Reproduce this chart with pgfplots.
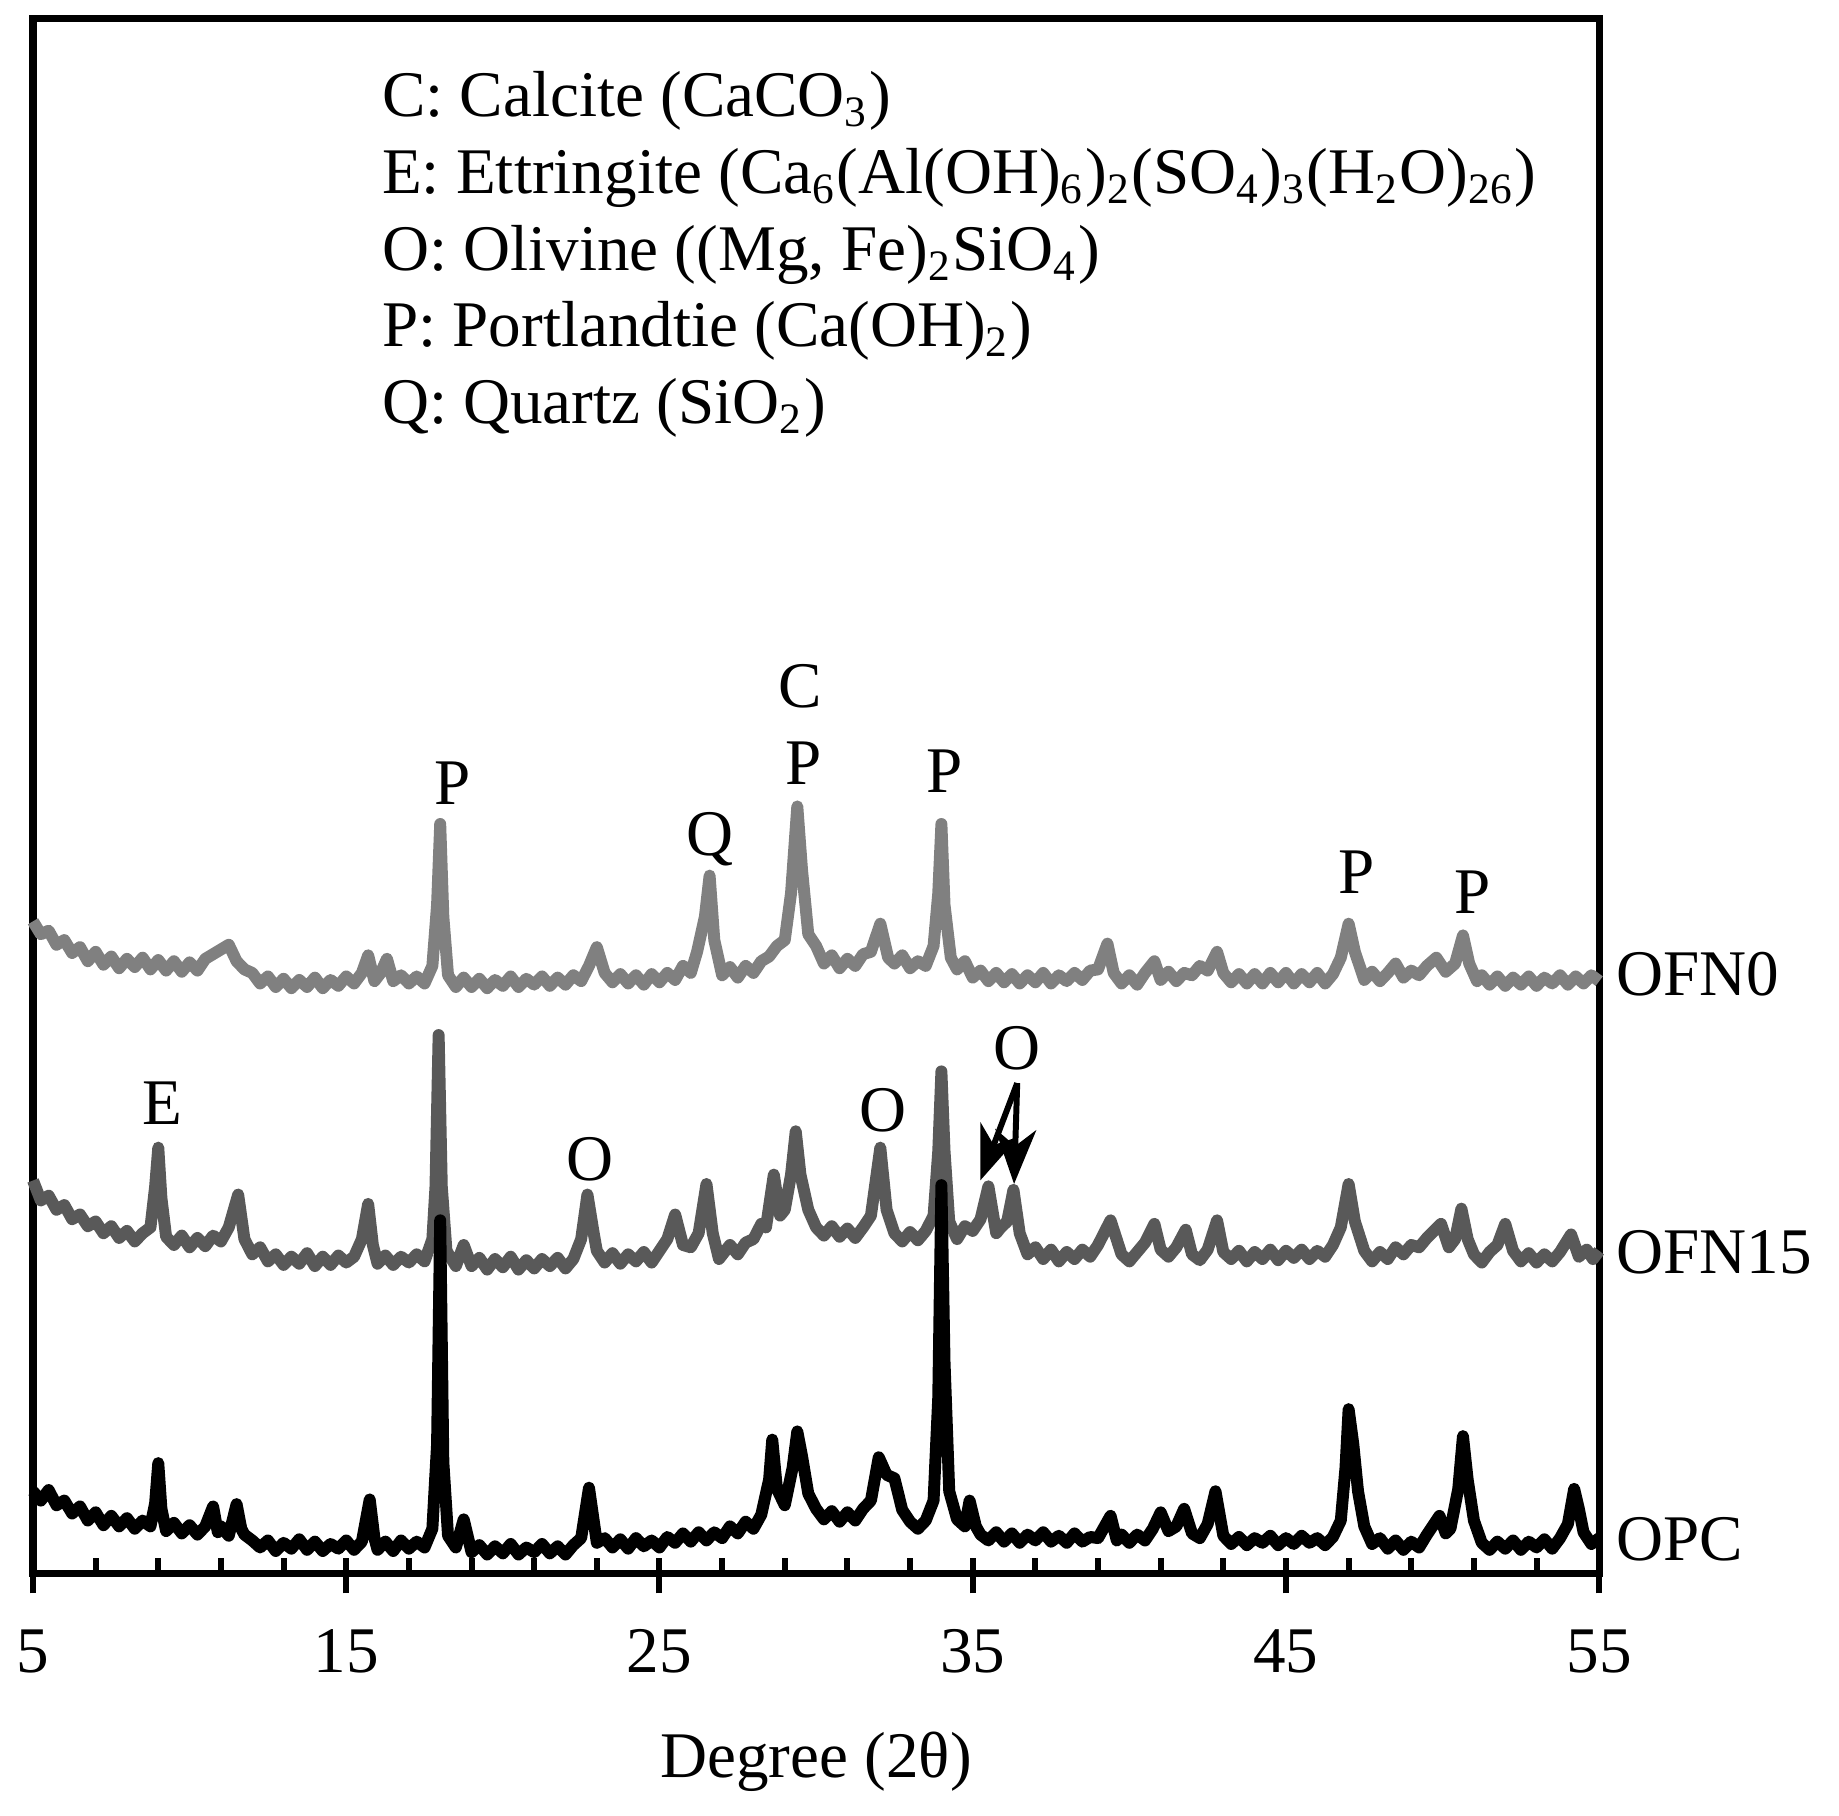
\documentclass[border=0pt]{standalone}
\usepackage{fontspec}
\setmainfont{Liberation Serif}
\usepackage{pgfplots}
\pgfplotsset{compat=1.18}
\usetikzlibrary{arrows.meta}
\definecolor{ofnzero}{RGB}{128,128,128}
\definecolor{ofnfifteen}{RGB}{89,89,89}

\begin{document}
\fontsize{12}{14.2}\selectfont
\begin{tikzpicture}
\useasboundingbox (-6.08pt,-44.6pt) rectangle (332.9pt,290.0pt);
\begin{axis}[
  scale only axis, width=288.7pt, height=286.6pt,
  xmin=5, xmax=55, ymin=0, ymax=1326,
  clip=false,
  axis line style={line width=1.3pt, black},
  tick style={line width=1.1pt, black},
  xtick={5,15,...,55}, xtick pos=left, tick align=outside,
  major tick length=3.7pt,
  extra x ticks={7,9,...,53}, extra x tick labels={},
  extra x tick style={tick align=inside, major tick length=2.9pt},
  ytick=\empty,
  /pgf/number format/assume math mode=true,
  tick label style={font=\fontsize{12}{14}\selectfont},
  xticklabel style={anchor=base, yshift=-14.6pt},
  every axis plot/.append style={line width=2.2pt, line join=round},
]
% OFN0
\addplot[color=ofnzero] coordinates {
(5.00,556) (5.25,545) (5.50,548) (5.75,536) (6.00,540) (6.25,529) (6.50,534) (6.75,522) (7.00,530) (7.25,519)
(7.50,526) (7.75,516) (8.00,524) (8.25,517) (8.50,525) (8.75,515) (9.00,523) (9.25,514) (9.50,522) (9.75,513)
(10.00,521) (10.25,514) (10.50,524) (10.75,528) (11.00,532) (11.25,536) (11.50,522) (11.75,515) (12.00,512) (12.25,503)
(12.50,509) (12.75,500) (13.00,507) (13.25,499) (13.50,506) (13.75,500) (14.00,508) (14.25,499) (14.50,506) (14.75,501)
(15.00,509) (15.25,503) (15.50,512) (15.70,527) (15.90,505) (16.10,512) (16.30,524) (16.50,505) (16.75,510) (17.00,503)
(17.25,509) (17.50,503) (17.75,518) (17.90,570) (18.00,639) (18.10,560) (18.25,510) (18.50,500) (18.75,508) (19.00,500)
(19.25,507) (19.50,499) (19.75,506) (20.00,501) (20.25,509) (20.50,500) (20.75,507) (21.00,502) (21.25,509) (21.50,501)
(21.75,508) (22.00,502) (22.25,510) (22.50,505) (22.75,518) (23.00,534) (23.25,512) (23.50,504) (23.75,511) (24.00,503)
(24.25,510) (24.50,502) (24.75,511) (25.00,504) (25.25,512) (25.50,506) (25.75,518) (26.00,512) (26.20,530) (26.45,560)
(26.60,595) (26.75,540) (27.00,510) (27.25,517) (27.50,508) (27.75,518) (28.00,512) (28.25,522) (28.50,526) (28.75,535)
(29.00,540) (29.20,580) (29.40,654) (29.55,600) (29.75,545) (30.00,535) (30.25,520) (30.50,527) (30.75,516) (31.00,524)
(31.25,518) (31.50,528) (31.75,530) (32.05,554) (32.30,525) (32.50,520) (32.75,527) (33.00,516) (33.25,522) (33.50,518)
(33.75,535) (33.90,580) (34.00,639) (34.10,570) (34.30,525) (34.50,515) (34.75,522) (35.00,508) (35.25,514) (35.50,505)
(35.75,512) (36.00,504) (36.25,511) (36.50,503) (36.75,510) (37.00,504) (37.25,512) (37.50,503) (37.75,510) (38.00,505)
(38.25,512) (38.50,506) (38.75,514) (39.00,515) (39.30,537) (39.50,512) (39.75,503) (40.00,510) (40.25,502) (40.50,512)
(40.80,522) (41.00,506) (41.25,513) (41.50,505) (41.75,512) (42.00,510) (42.25,518) (42.50,514) (42.80,530) (43.00,512)
(43.25,504) (43.50,511) (43.75,503) (44.00,511) (44.25,503) (44.50,512) (44.75,504) (45.00,512) (45.25,503) (45.50,511)
(45.75,504) (46.00,512) (46.25,503) (46.50,511) (46.75,525) (47.00,554) (47.20,530) (47.50,506) (47.75,513) (48.00,505)
(48.25,512) (48.50,520) (48.75,508) (49.00,514) (49.25,510) (49.50,518) (49.80,525) (50.10,513) (50.40,520) (50.65,544)
(50.85,520) (51.10,505) (51.25,510) (51.50,502) (51.75,509) (52.00,501) (52.25,508) (52.50,502) (52.75,509) (53.00,501)
(53.25,508) (53.50,503) (53.75,510) (54.00,502) (54.25,509) (54.50,503) (54.75,510) (55.00,505)
};
% OFN15
\addplot[color=ofnfifteen] coordinates {
(5.00,335) (5.25,318) (5.50,322) (5.75,310) (6.00,314) (6.25,302) (6.50,306) (6.75,296) (7.00,300) (7.25,290)
(7.50,296) (7.75,286) (8.00,292) (8.25,283) (8.50,290) (8.75,295) (8.90,330) (9.00,363) (9.10,320) (9.25,287)
(9.50,280) (9.75,288) (10.00,278) (10.25,286) (10.50,279) (10.75,288) (11.00,283) (11.25,295) (11.55,323) (11.75,285)
(12.00,272) (12.25,278) (12.50,266) (12.75,272) (13.00,263) (13.25,270) (13.50,264) (13.75,273) (14.00,262) (14.25,270)
(14.50,263) (14.75,271) (15.00,265) (15.25,270) (15.50,285) (15.70,315) (15.85,280) (16.00,264) (16.25,271) (16.50,263)
(16.75,270) (17.00,265) (17.25,272) (17.50,266) (17.75,285) (17.85,330) (17.95,459) (18.05,330) (18.20,275) (18.50,262)
(18.75,280) (19.00,262) (19.25,269) (19.50,259) (19.75,268) (20.00,261) (20.25,270) (20.50,259) (20.75,267) (21.00,260)
(21.25,268) (21.50,262) (21.75,269) (22.00,260) (22.25,268) (22.50,285) (22.70,323) (22.90,290) (23.00,275) (23.25,265)
(23.50,273) (23.75,264) (24.00,272) (24.25,266) (24.50,274) (24.75,265) (25.00,275) (25.25,285) (25.50,306) (25.75,280)
(26.00,278) (26.25,290) (26.50,332) (26.70,290) (26.90,268) (27.25,280) (27.50,272) (27.75,282) (28.00,285) (28.25,298)
(28.40,295) (28.65,340) (28.85,305) (29.00,310) (29.20,340) (29.35,377) (29.50,340) (29.75,310) (30.00,295) (30.25,288)
(30.50,296) (30.75,287) (31.00,294) (31.25,286) (31.50,295) (31.75,305) (32.05,363) (32.25,310) (32.50,290) (32.75,283)
(33.00,291) (33.25,284) (33.50,292) (33.75,305) (33.90,360) (34.00,428) (34.10,360) (34.25,300) (34.50,285) (34.75,296)
(35.00,292) (35.25,302) (35.50,330) (35.75,290) (35.90,295) (36.10,300) (36.30,327) (36.50,290) (36.75,272) (37.00,278)
(37.25,268) (37.50,276) (37.75,266) (38.00,274) (38.25,268) (38.50,276) (38.75,270) (39.00,280) (39.40,301) (39.75,272)
(40.00,266) (40.25,274) (40.50,282) (40.80,298) (41.00,276) (41.25,270) (41.50,278) (41.80,293) (42.00,272) (42.25,267)
(42.50,276) (42.80,301) (43.00,274) (43.25,268) (43.50,275) (43.75,266) (44.00,274) (44.25,268) (44.50,276) (44.75,267)
(45.00,275) (45.25,269) (45.50,276) (45.75,268) (46.00,275) (46.25,270) (46.50,280) (46.75,295) (47.00,332) (47.20,300)
(47.50,275) (47.75,266) (48.00,274) (48.25,268) (48.50,278) (48.75,272) (49.00,280) (49.25,278) (49.50,286) (49.95,298)
(50.20,278) (50.40,285) (50.60,311) (50.80,285) (51.00,272) (51.25,265) (51.50,274) (51.75,280) (52.00,298) (52.25,275)
(52.50,266) (52.75,273) (53.00,265) (53.25,272) (53.50,266) (53.75,274) (54.10,289) (54.35,270) (54.60,276) (54.80,268)
(55.00,275)
};
% OPC
\addplot[color=black] coordinates {
(5.00,70) (5.25,62) (5.50,71) (5.75,58) (6.00,62) (6.25,51) (6.50,57) (6.75,45) (7.00,52) (7.25,41)
(7.50,49) (7.75,40) (8.00,47) (8.25,38) (8.50,45) (8.75,40) (8.90,60) (9.00,94) (9.10,55) (9.25,36)
(9.50,43) (9.75,34) (10.00,41) (10.25,33) (10.50,40) (10.75,57) (10.90,35) (11.00,40) (11.25,32) (11.50,59)
(11.65,38) (11.75,33) (12.00,28) (12.25,22) (12.50,28) (12.75,19) (13.00,26) (13.25,21) (13.50,29) (13.75,20)
(14.00,27) (14.25,19) (14.50,25) (14.75,21) (15.00,28) (15.25,20) (15.50,27) (15.75,63) (15.90,30) (16.00,20)
(16.25,27) (16.50,19) (16.75,28) (17.00,21) (17.25,27) (17.50,22) (17.75,38) (17.90,110) (18.00,301) (18.10,95)
(18.25,32) (18.50,22) (18.75,46) (19.00,18) (19.25,24) (19.50,16) (19.75,23) (20.00,17) (20.25,25) (20.50,16)
(20.75,22) (21.00,18) (21.25,25) (21.50,17) (21.75,23) (22.00,16) (22.25,24) (22.50,30) (22.75,73) (23.00,26)
(23.25,30) (23.50,22) (23.75,29) (24.00,21) (24.25,30) (24.50,23) (24.75,28) (25.00,22) (25.25,31) (25.50,26)
(25.75,34) (26.00,27) (26.25,35) (26.50,28) (26.75,35) (27.00,30) (27.25,40) (27.50,34) (27.75,44) (28.00,38)
(28.25,50) (28.50,80) (28.60,114) (28.75,72) (29.00,58) (29.25,90) (29.40,121) (29.55,100) (29.75,68) (30.00,55)
(30.25,46) (30.50,53) (30.75,44) (31.00,52) (31.25,45) (31.50,55) (31.75,62) (32.00,99) (32.25,84) (32.50,81)
(32.75,54) (33.00,44) (33.25,38) (33.50,45) (33.75,62) (33.90,150) (34.00,331) (34.10,180) (34.25,70) (34.50,46)
(34.75,40) (34.90,62) (35.10,40) (35.25,33) (35.50,28) (35.75,35) (36.00,27) (36.25,34) (36.50,26) (36.75,33)
(37.00,28) (37.25,35) (37.50,27) (37.75,32) (38.00,26) (38.25,34) (38.50,27) (38.75,31) (39.00,30) (39.40,49)
(39.60,28) (39.75,33) (40.00,26) (40.25,33) (40.50,28) (40.75,38) (41.00,52) (41.25,36) (41.50,40) (41.75,55)
(42.00,34) (42.25,30) (42.50,42) (42.75,70) (43.00,32) (43.25,25) (43.50,31) (43.75,24) (44.00,30) (44.25,26)
(44.50,32) (44.75,24) (45.00,30) (45.25,25) (45.50,32) (45.75,26) (46.00,30) (46.25,24) (46.50,31) (46.75,45)
(46.90,90) (47.00,140) (47.15,110) (47.30,70) (47.50,40) (47.75,25) (48.00,30) (48.25,21) (48.50,28) (48.75,20)
(49.00,27) (49.25,22) (49.50,33) (49.90,49) (50.10,34) (50.25,38) (50.50,72) (50.65,117) (50.80,80) (51.00,45)
(51.25,26) (51.50,20) (51.75,27) (52.00,21) (52.25,28) (52.50,20) (52.75,27) (53.00,22) (53.25,29) (53.50,21)
(53.75,30) (54.00,42) (54.20,72) (54.35,55) (54.50,35) (54.75,25) (55.00,30)
};
% phase key
\node[anchor=base west, inner sep=0pt] at (axis cs:16.11,1242) {C: Calcite (CaCO\textsubscript{3})};
\node[anchor=base west, inner sep=0pt] at (axis cs:16.11,1176.6) {E: Ettringite (Ca\textsubscript{6}(Al(OH)\textsubscript{6})\textsubscript{2}(SO\textsubscript{4})\textsubscript{3}(H\textsubscript{2}O)\textsubscript{26})};
\node[anchor=base west, inner sep=0pt] at (axis cs:16.11,1111.2) {O: Olivine ((Mg, Fe)\textsubscript{2}SiO\textsubscript{4})};
\node[anchor=base west, inner sep=0pt] at (axis cs:16.11,1045.8) {P: Portlandtie (Ca(OH)\textsubscript{2})};
\node[anchor=base west, inner sep=0pt] at (axis cs:16.11,980.4) {Q: Quartz (SiO\textsubscript{2})};
% peak letters
\node[anchor=base] at (axis cs:18.4,656) {P};
\node[anchor=base] at (axis cs:26.62,612) {Q};
\node[anchor=base] at (axis cs:29.49,738) {C};
\node[anchor=base] at (axis cs:29.59,673) {P};
\node[anchor=base] at (axis cs:34.09,666) {P};
\node[anchor=base] at (axis cs:47.27,580) {P};
\node[anchor=base] at (axis cs:50.95,563) {P};
\node[anchor=base] at (axis cs:9.12,383) {E};
\node[anchor=base] at (axis cs:22.78,335) {O};
\node[anchor=base] at (axis cs:32.14,377) {O};
\node[anchor=base] at (axis cs:36.42,430) {O};
\draw[line width=1.1pt, -{Stealth[length=10pt, width=7.5pt, inset=3pt]}] (axis cs:36.42,418) -- (axis cs:35.24,335);
\draw[line width=1.1pt, -{Stealth[length=10pt, width=7.5pt, inset=3pt]}] (axis cs:36.42,418) -- (axis cs:36.32,332);
% sample names
\node[anchor=base west, inner sep=0pt, xshift=3pt] at (axis cs:55,493) {OFN0};
\node[anchor=base west, inner sep=0pt, xshift=3pt] at (axis cs:55,256) {OFN15};
\node[anchor=base west, inner sep=0pt, xshift=3pt] at (axis cs:55,11) {OPC};
\node[anchor=base] at (axis cs:30,-174) {Degree (2θ)};
\end{axis}
\end{tikzpicture}
\end{document}
